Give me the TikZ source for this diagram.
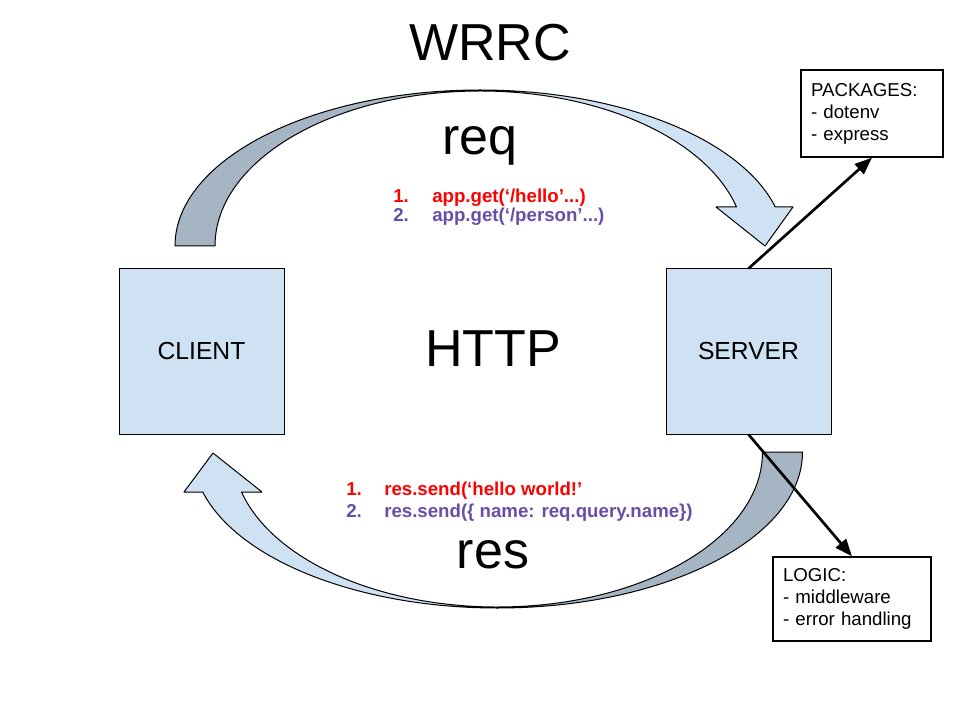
\documentclass[tikz,border=0pt]{standalone}
\usepackage{fontspec}
\setmainfont{Liberation Sans}
\usetikzlibrary{arrows.meta}
\definecolor{boxblue}{HTML}{CFE2F3}
\definecolor{bandshade}{HTML}{A6B5C3}
\definecolor{itemred}{HTML}{FF0000}
\definecolor{itempurple}{HTML}{674EA7}

\begin{document}
\begin{tikzpicture}[x=0.75pt,y=-0.75pt,
    endpoint/.style={draw,line width=0.75pt,fill=boxblue,minimum size=123.75pt,font=\fontsize{18.5}{22}\selectfont},
    notebox/.style={draw,line width=1pt,fill=white,align=left,inner xsep=7.5pt,font=\fontsize{14}{16.5}\selectfont},
    bigword/.style={anchor=base,inner sep=0pt,font=\fontsize{39}{47}\selectfont},
    listline/.style={anchor=base west,inner sep=0pt,font=\bfseries\fontsize{14}{16.5}\selectfont},
    band/.style={draw,line width=0.75pt,line join=round},
    link/.style={line width=2pt,-{Triangle[length=13pt,width=10pt]}}]
\useasboundingbox (0,0) rectangle (960,720);
            \draw[band,fill=bandshade] (175,246) arc[start angle=180,end angle=270,x radius=305,y radius=156] -- (480,91) arc[start angle=270,end angle=180,x radius=265,y radius=155] -- cycle;
            \draw[band,fill=boxblue] (480,90) arc[start angle=270,end angle=345.52,x radius=305,y radius=156] -- (793,207) -- (765,246) -- (716,207) -- (736.5,207) arc[start angle=345.43,end angle=270,x radius=265,y radius=155] -- cycle;
            \draw[band,fill=bandshade] (802.5,452) arc[start angle=0,end angle=90,x radius=305,y radius=156] -- (497.5,607) arc[start angle=90,end angle=0,x radius=265,y radius=155] -- cycle;
            \draw[band,fill=boxblue] (497.5,608) arc[start angle=90,end angle=165.14,x radius=305,y radius=156] -- (184,492) -- (213,453) -- (262,492) -- (241.5,492) arc[start angle=165.05,end angle=90,x radius=265,y radius=155] -- cycle;
            \node[bigword] at (490,61) (title) {WRRC};
            \node[bigword] at (480,155) (reqword) {req};
            \node[bigword] at (493,366) (http) {HTTP};
            \node[bigword] at (493,568) (resword) {res};
            \node[endpoint] at (201.5,351.5) (client) {CLIENT};
            \node[endpoint] at (748.5,351.5) (server) {SERVER};
            \node[notebox,text width=91.5pt,minimum height=65.25pt] at (872,113.5) (packages) {PACKAGES:\\- dotenv\\- express};
            \node[notebox,text width=103.5pt,minimum height=63pt] at (852,599) (logic) {LOGIC:\\- middleware\\- error handling};
            \node[listline,text=itemred] at (393,202.7) (get1) {\makebox[29.25pt][l]{1.}app.get(‘/hello’...)};
            \node[listline,text=itempurple] at (393,221.7) (get2) {\makebox[29.25pt][l]{2.}app.get(‘/person’...)};
            \node[listline,text=itemred] at (346,495) (send1) {\makebox[28.5pt][l]{1.}res.send(‘hello world!’};
            \node[listline,text=itempurple] at (346,517) (send2) {\makebox[28.5pt][l]{2.}res.send(\{ name: req.query.name\})};
            \draw[link] (server.north) -- (packages.south);
            \draw[link] (server.south) -- (logic.north);
        \end{tikzpicture}
\end{document}
